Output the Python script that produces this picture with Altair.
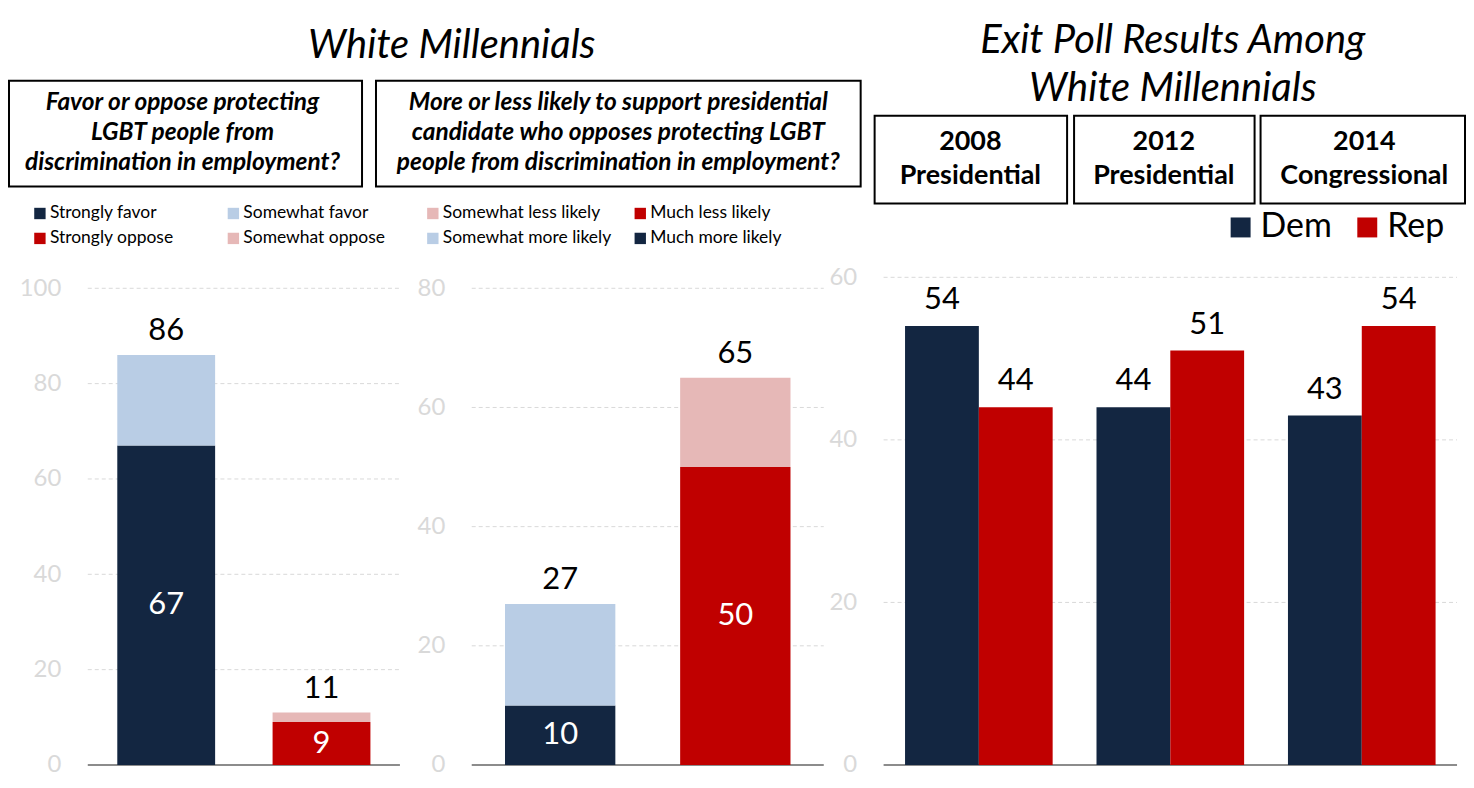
import altair as alt
import pandas as pd

NAVY = "#132641"
RED = "#C00000"
LBLUE = "#B9CDE5"
PINK = "#E6B8B7"
FONT = "Lato"

# panel 1: favor / oppose protections
p1_groups = ["Favor", "Oppose"]
p1_group_of = ["Favor", "Favor", "Oppose", "Oppose"]
p1_parts = ["Strongly favor", "Somewhat favor", "Strongly oppose", "Somewhat oppose"]
p1_values = [67, 19, 9, 2]
p1_rank = [0, 1, 0, 1]
p1_totals = [86, 11]
p1_inner = [67, 9]
p1_colors = [NAVY, LBLUE, RED, PINK]
p1_ticks = [0, 20, 40, 60, 80, 100]

# panel 2: more / less likely to support candidate
p2_groups = ["More likely", "Less likely"]
p2_group_of = ["More likely", "More likely", "Less likely", "Less likely"]
p2_parts = ["Much more likely", "Somewhat more likely", "Much less likely", "Somewhat less likely"]
p2_values = [10, 17, 50, 15]
p2_rank = [0, 1, 0, 1]
p2_totals = [27, 65]
p2_inner = [10, 50]
p2_colors = [NAVY, LBLUE, RED, PINK]
p2_ticks = [0, 20, 40, 60, 80]
p2_legend = ["Somewhat less likely", "Much less likely", "Somewhat more likely", "Much more likely"]
p2_legend_colors = [PINK, RED, LBLUE, NAVY]

# panel 3: exit polls
elections = ["2008 Presidential", "2012 Presidential", "2014 Congressional"]
dem = [54, 44, 43]
rep = [44, 51, 54]
p3_ticks = [0, 20, 40, 60]

H = 489
ONE = alt.Data(values=[{"a": 1}])


def note(text, x, y, **kw):
    return alt.Chart(ONE).mark_text(text=text, font=FONT, **kw).encode(
        x=alt.value(x), y=alt.value(y))


def box(x1, x2, y1, y2, **kw):
    style = dict(fill="white", stroke="black", strokeWidth=2)
    style.update(kw)
    return alt.Chart(ONE).mark_rect(**style).encode(
        x=alt.value(x1), x2=alt.value(x2), y=alt.value(y1), y2=alt.value(y2))


def y_axis(ticks):
    return alt.Axis(values=ticks, title=None, grid=False, domain=False, ticks=False,
                    labelColor="#D9D9D9", labelFont=FONT, labelFontSize=24,
                    labelPadding=27)


def grid(ticks, w):
    # dashed gridlines plus the grey baseline, drawn through the y scale
    lines = alt.Chart(pd.DataFrame({"t": ticks[1:]})).mark_rule(
        color="#D9D9D9", strokeDash=[4, 3], strokeWidth=1).encode(
        y=alt.Y("t:Q"), x=alt.value(0), x2=alt.value(w))
    base = alt.Chart(ONE).mark_rule(color="#8C8C8C", strokeWidth=2).encode(
        y=alt.datum(0), x=alt.value(0), x2=alt.value(w))
    return [lines, base]


x_axis = alt.Axis(labels=False, ticks=False, title=None, grid=False, domain=False)


def legend(labels, colors, sq_x, ty):
    out = []
    for i, (lab, col) in enumerate(zip(labels, colors)):
        cx = sq_x[i % 2]
        cy = ty[i // 2]
        out.append(alt.Chart(ONE).mark_square(size=130, color=col, opacity=1)
                   .encode(x=alt.value(cx), y=alt.value(cy)))
        out.append(note(lab, cx + 10, cy, align="left", baseline="middle",
                        fontSize=17.5, color="#000"))
    return out


def stacked(groups, group_of, parts, values, rank, totals, inner, colors,
            ymax, ticks, w):
    df = pd.DataFrame({"group": group_of, "part": parts, "value": values, "rank": rank})
    lab = pd.DataFrame({"group": groups, "total": totals, "inner": inner})
    x = alt.X("group:N", sort=groups, axis=x_axis,
              scale=alt.Scale(range=[0, w], paddingInner=0.37, paddingOuter=0.19))
    ysc = alt.Scale(domain=[0, ymax], nice=False)
    bars = alt.Chart(df).mark_bar().encode(
        x=x,
        y=alt.Y("value:Q", stack="zero", scale=ysc, axis=y_axis(ticks)),
        color=alt.Color("part:N", scale=alt.Scale(domain=parts, range=colors), legend=None),
        order=alt.Order("rank:Q"),
    )
    tops = alt.Chart(lab).mark_text(font=FONT, fontSize=31, baseline="alphabetic",
                                    dy=-15, color="black").encode(
        x=alt.X("group:N", sort=groups), y=alt.Y("total:Q"), text="total:Q")
    mids = alt.Chart(lab).transform_calculate(mid="datum.inner / 2").mark_text(
        font=FONT, fontSize=31, baseline="middle", color="white").encode(
        x=alt.X("group:N", sort=groups), y=alt.Y("mid:Q"), text="inner:Q")
    return grid(ticks, w) + [bars, tops, mids]


QSTYLE = dict(fontSize=24.5, fontWeight="bold", fontStyle="italic",
              baseline="middle", lineHeight=30)

# ---------- panel 1 ----------
layers1 = stacked(p1_groups, p1_group_of, p1_parts, p1_values, p1_rank,
                  p1_totals, p1_inner, p1_colors, 102.3, p1_ticks, 313)
deco1 = [
    box(-79, 0, -269, -268, opacity=0, strokeOpacity=0),
    box(-79, 275, -197, -91),
    note("White Millennials", 365, -232, fontSize=40, fontStyle="italic",
         baseline="middle"),
    note(["Favor or oppose protecting", "LGBT people from",
          "discrimination in employment?"], 95, -175, **QSTYLE),
] + legend(p1_parts, p1_colors, [-48, 146], [-64, -39])
# panel is 12px wider than its plot so that one concat spacing fits both gaps
panel1 = alt.layer(*deco1, *layers1).properties(width=325, height=H)

# ---------- panel 2 ----------
layers2 = stacked(p2_groups, p2_group_of, p2_parts, p2_values, p2_rank,
                  p2_totals, p2_inner, p2_colors, 81.84, p2_ticks, 353)
deco2 = [
    box(-96, 390, -197, -91),
    note(["More or less likely to support presidential",
          "candidate who opposes protecting LGBT",
          "people from discrimination in employment?"], 147, -175, **QSTYLE),
] + legend(p2_legend, p2_legend_colors, [-39, 169], [-64, -39])
panel2 = alt.layer(*deco2, *layers2).properties(width=353, height=H)

# ---------- panel 3 ----------
df3 = pd.DataFrame({
    "election": elections * 2,
    "party": ["Dem"] * 3 + ["Rep"] * 3,
    "pct": dem + rep,
})
x3 = alt.X("election:N", sort=elections, axis=x_axis,
           scale=alt.Scale(paddingInner=0.229, paddingOuter=0.112))
xo3 = alt.XOffset("party:N", sort=["Dem", "Rep"],
                  scale=alt.Scale(paddingInner=0, paddingOuter=0))
bars3 = alt.Chart(df3).mark_bar().encode(
    x=x3, xOffset=xo3,
    y=alt.Y("pct:Q", scale=alt.Scale(domain=[0, 60], nice=False), axis=y_axis(p3_ticks)),
    color=alt.Color("party:N", scale=alt.Scale(domain=["Dem", "Rep"], range=[NAVY, RED]),
                    legend=None),
)
text3 = alt.Chart(df3).mark_text(font=FONT, fontSize=31, baseline="alphabetic",
                                 dy=-17, color="black").encode(
    x=alt.X("election:N", sort=elections), xOffset=xo3, y="pct:Q", text="pct:Q")

deco3 = [
    box(-9, 184, -162, -74),
    box(191, 372, -162, -74),
    box(378, 583, -162, -74),
    note(["Exit Poll Results Among", "White Millennials"], 290, -237, fontSize=40,
         fontStyle="italic", baseline="middle", lineHeight=48),
]
for cx, lines in zip([87, 281, 482], [e.split(" ") for e in elections]):
    deco3.append(note(lines, cx, -136, fontSize=27, fontWeight="bold",
                      baseline="middle", lineHeight=34))
for cx, party, col in zip([358, 485], ["Dem", "Rep"], [NAVY, RED]):
    deco3.append(alt.Chart(ONE).mark_square(size=400, color=col, opacity=1)
                 .encode(x=alt.value(cx), y=alt.value(-50)))
    deco3.append(note(party, cx + 20, -50, fontSize=34, align="left",
                      baseline="middle"))
panel3 = alt.layer(*deco3, *grid(p3_ticks, 575), bars3, text3).properties(width=575, height=H)

chart = alt.hconcat(
    panel1, panel2, panel3, spacing=60, bounds="flush",
).resolve_scale(color="independent").properties(padding=0).configure_view(stroke=None)

chart.save("out.html", embed_options={"renderer": "svg", "actions": False})
